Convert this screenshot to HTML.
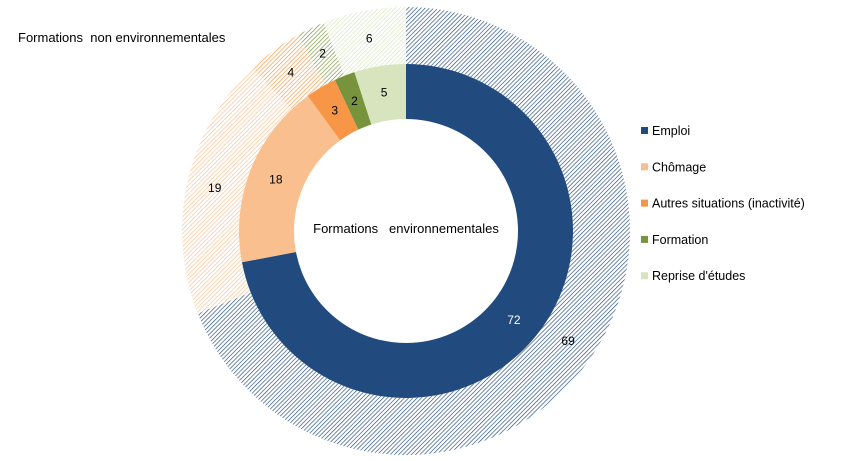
<!DOCTYPE html>
<html><head><meta charset="utf-8"><style>
body{margin:0;background:#fff;}
svg{display:block;font-family:"Liberation Sans",sans-serif;}
</style></head><body>
<svg width="842" height="461" viewBox="0 0 842 461">
<defs id="defs"></defs>
<g id="outer"></g><g id="inner"></g><g id="labels"></g>
<text x="18" y="42" font-size="13">Formations&#160; non environnementales</text>
<text x="406" y="233" font-size="13" text-anchor="middle">Formations&#160;&#160; environnementales</text>
<g id="legend"></g>
</svg>
<script>
const categories=["Emploi","Chômage","Autres situations (inactivité)","Formation","Reprise d'études"];
const innerValues=[72,18,3,2,5];
const outerValues=[69,19,4,2,6];
const colors=["#214a7e","#f9bf8f","#f79646","#77933c","#d7e4bd"];
const NS="http://www.w3.org/2000/svg";
const cx=406,cy=231;
const svg=document.querySelector('svg');
function mk(t,a,p){const e=document.createElementNS(NS,t);for(const k in a)e.setAttribute(k,a[k]);p.appendChild(e);return e;}
const defs=document.getElementById('defs');
colors.forEach((c,i)=>{
 const p=mk('pattern',{id:'h'+i,patternUnits:'userSpaceOnUse',width:3,height:3,patternTransform:'rotate(45)'},defs);
 mk('rect',{width:3,height:3,fill:'#fff'},p);
 mk('line',{x1:0,y1:0,x2:0,y2:3,stroke:c,'stroke-width':1.3},p);
});
function arc(a0,a1,r0,r1){
 const p=(a,r)=>[cx+r*Math.sin(a),cy-r*Math.cos(a)];
 const l=(a1-a0)>Math.PI?1:0;
 const [x0,y0]=p(a0,r1),[x1,y1]=p(a1,r1),[x2,y2]=p(a1,r0),[x3,y3]=p(a0,r0);
 return `M${x0},${y0}A${r1},${r1} 0 ${l} 1 ${x1},${y1}L${x2},${y2}A${r0},${r0} 0 ${l} 0 ${x3},${y3}Z`;
}
function ring(vals,g,r0,r1,rl,hatched,nm){
 const tot=vals.reduce((a,b)=>a+b,0);let a=0;
 vals.forEach((v,i)=>{
  const a0=a/tot*2*Math.PI,a1=(a+v)/tot*2*Math.PI;a+=v;
  const e=mk('path',{d:arc(a0,a1,r0,r1),fill:hatched?'url(#h'+i+')':colors[i]},g);
  
  
  const m=(a0+a1)/2;
  const t=mk('text',{x:cx+rl*Math.sin(m),y:cy-rl*Math.cos(m)+4,'font-size':12,'text-anchor':'middle',fill:(!hatched&&i==0)?'#fff':'#000'},document.getElementById('labels'));
  t.textContent=v;
  
  
 });
}
ring(outerValues,document.getElementById('outer'),167,224,196,true,'outer');
ring(innerValues,document.getElementById('inner'),112,167,140,false,'inner');
const lg=document.getElementById('legend');
categories.forEach((c,i)=>{
 const y=131+i*36.3;
 const g=mk('g',{},lg);
 
 
 mk('rect',{x:641,y:y-4,width:7,height:7,fill:colors[i]},g);
 const t=mk('text',{x:652,y:y+4,'font-size':12.5},g);t.textContent=c;
});
</script>
</body></html>
